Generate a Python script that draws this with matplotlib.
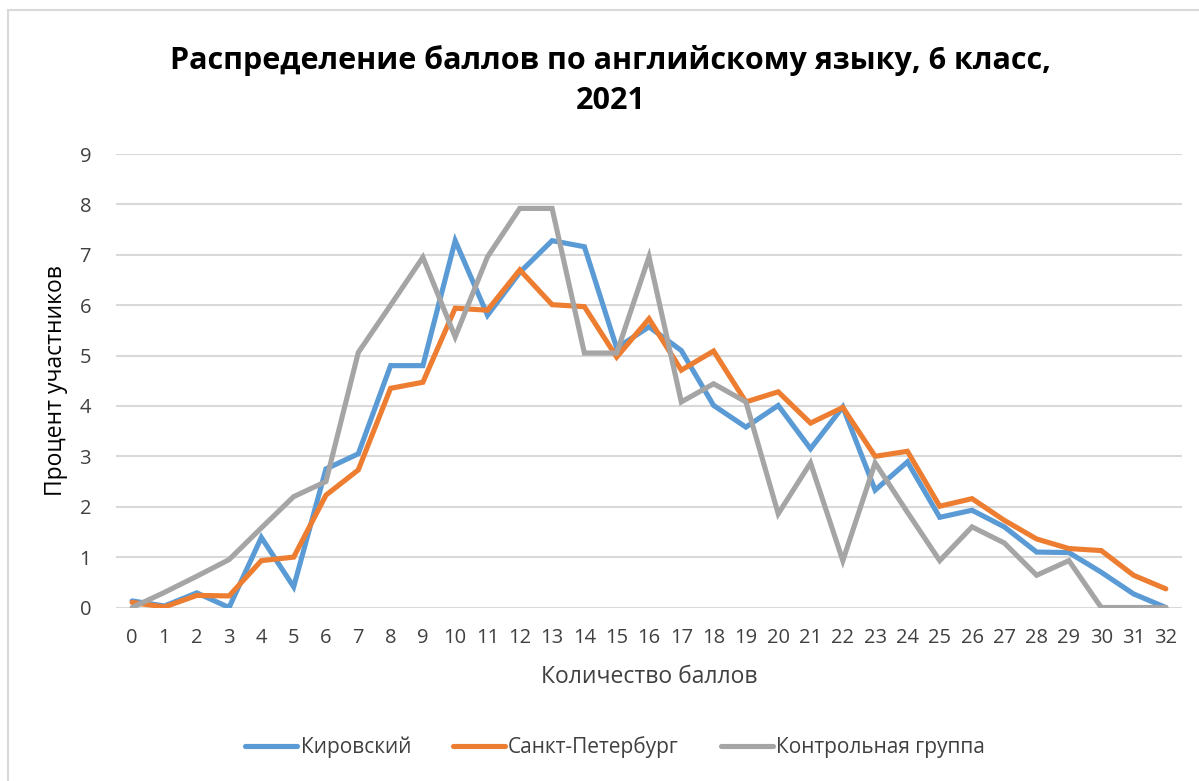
import matplotlib
matplotlib.use('Agg')
import matplotlib.pyplot as plt
from matplotlib.patches import Rectangle

plt.rcParams['font.family'] = ['Open Sans', 'DejaVu Sans']

# баллы 0..32
scores = list(range(33))

kirovsky = [0.13, 0.03, 0.29, 0.0, 1.39, 0.41, 2.75, 3.05, 4.80, 4.80,
            7.28, 5.80, 6.65, 7.28, 7.16, 5.15, 5.57, 5.10, 4.01, 3.58,
            4.01, 3.15, 3.98, 2.33, 2.89, 1.79, 1.93, 1.60, 1.10, 1.09,
            0.70, 0.27, 0.0]

spb = [0.10, 0.01, 0.24, 0.23, 0.93, 1.00, 2.23, 2.73, 4.35, 4.47,
       5.94, 5.90, 6.70, 6.01, 5.97, 4.97, 5.73, 4.71, 5.09, 4.08,
       4.28, 3.66, 3.97, 3.00, 3.10, 2.01, 2.16, 1.73, 1.36, 1.17,
       1.13, 0.64, 0.37]

control = [0.0, 0.30, 0.62, 0.95, 1.58, 2.20, 2.50, 5.06, 6.00, 6.95,
           5.37, 6.96, 7.92, 7.92, 5.05, 5.05, 6.96, 4.08, 4.44, 4.08,
           1.86, 2.87, 0.93, 2.87, 1.89, 0.93, 1.60, 1.28, 0.64, 0.93,
           0.0, 0.0, 0.0]

series_names = ['Кировский', 'Санкт-Петербург', 'Контрольная группа']
colors = ['#5B9BD5', '#ED7D31', '#A5A5A5']

fig = plt.figure(figsize=(11.99, 7.81), dpi=100)

# рамка диаграммы
fig.patches.append(Rectangle((8 / 1199, -0.05), 1.2, 1 - 9.5 / 781 + 0.05,
                             transform=fig.transFigure, fill=False,
                             edgecolor='#D9D9D9', linewidth=1.5))

ax = fig.add_axes([116 / 1199, 1 - 607.5 / 781, 1066 / 1199, 453.5 / 781])

for vals, name, c in zip([kirovsky, spb, control], series_names, colors):
    ax.plot(scores, vals, color=c, linewidth=3.7, label=name,
            solid_joinstyle='miter', solid_capstyle='round')

# порядок отрисовки как в Excel: серый сверху
ax.lines[2].set_zorder(2.3)
ax.lines[1].set_zorder(2.2)
ax.lines[0].set_zorder(2.1)

ax.set_xlim(-0.5, 32.5)
ax.set_ylim(0, 9)
ax.set_xticks(scores)
ax.set_yticks(range(10))
ax.tick_params(length=0, labelsize=14.5, colors='#404040')
ax.tick_params(axis='y', pad=18)
ax.tick_params(axis='x', pad=15)
ax.grid(axis='y', color='#D9D9D9', linewidth=1.5)
ax.set_axisbelow(True)
for s in ax.spines.values():
    s.set_visible(False)

ax.set_xlabel('Количество баллов', fontsize=16.5, color='#404040', labelpad=12)
ax.set_ylabel('Процент участников', fontsize=16.5, color='#000000', labelpad=8)

fig.text(611 / 1199, 1 - 60 / 781, 'Распределение баллов по английскому языку, 6 класс,',
         ha='center', va='center', fontsize=22, fontweight='bold')
fig.text(611 / 1199, 1 - 101 / 781, '2021',
         ha='center', va='center', fontsize=22, fontweight='bold')

fig.legend(loc='center', bbox_to_anchor=(615 / 1199, 1 - 747 / 781), ncol=3,
           frameon=False, fontsize=15, handlelength=2.5, handletextpad=0.15,
           columnspacing=2.0, labelcolor='#404040')

fig.savefig('out.png', dpi=100)
